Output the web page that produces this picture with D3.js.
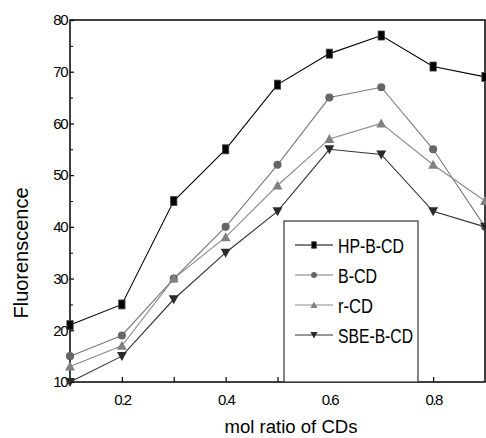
<!DOCTYPE html>
<html><head><meta charset="utf-8">
<script src="https://cdn.jsdelivr.net/npm/d3@7"></script>
<style>body{margin:0;background:#fff}svg{display:block;font-family:"Liberation Sans",Arial,sans-serif}</style>
</head><body><svg id="c" width="486" height="438"></svg>
<script>
const xs = [0.1,0.2,0.3,0.4,0.5,0.6,0.7,0.8,0.9];
const hpBCD = [21,25,45,55,67.5,73.5,77,71,69];
const bCD = [15,19,30,40,52,65,67,55,40];
const rCD = [13,17,30,38,48,57,60,52,45];
const sbeBCD = [10,15,26,35,43,55,54,43,40];
const xTickLabels = [0.2,0.4,0.6,0.8];
const yTickLabels = [10,20,30,40,50,60,70,80];
const seriesNames = ["HP-B-CD","B-CD","r-CD","SBE-B-CD"];

const svg = d3.select("#c");
const L=70,R=485,T=20,B=382;
const x = d3.scaleLinear().domain([0.1,0.9]).range([L,R]);
const y = d3.scaleLinear().domain([10,80]).range([B,T]);

const series = [
  {name:seriesNames[0], v:hpBCD, line:"#000", fill:"#000", shape:"square"},
  {name:seriesNames[1], v:bCD, line:"#7a7a7a", fill:"#666", shape:"circle"},
  {name:seriesNames[2], v:rCD, line:"#8a8a8a", fill:"#808080", shape:"up"},
  {name:seriesNames[3], v:sbeBCD, line:"#333", fill:"#2a2a2a", shape:"down"}
];

// axes (ticks inward)
const gx = svg.append("g").attr("transform",`translate(0,${B})`)
  .call(d3.axisBottom(x).tickValues([0.2,0.3,0.4,0.5,0.6,0.7,0.8]).tickSize(-5).tickPadding(12)
  .tickFormat(d=> xTickLabels.some(t=>Math.abs(t-d)<1e-9)? d3.format(".1f")(d):""));
const gy = svg.append("g").attr("transform",`translate(${L},0)`)
  .call(d3.axisLeft(y).tickValues(yTickLabels).tickSize(-4).tickPadding(3));
svg.append("g").attr("transform",`translate(${L},0)`)
  .call(d3.axisLeft(y).tickValues(d3.range(15,80,10)).tickSize(-3).tickFormat(""))
  .call(g=>g.select(".domain").remove());
[gx,gy].forEach(g=>{
  g.select(".domain").remove();
  g.selectAll("line").attr("stroke","#000").attr("stroke-width",1.2);
  g.selectAll("text").attr("font-size",15).attr("letter-spacing","-1.5px").attr("fill","#000")
   .attr("font-family","'Liberation Sans',Arial,sans-serif");
});
svg.selectAll("g line").attr("stroke","#000");

// frame
svg.append("rect").attr("x",L).attr("y",T).attr("width",R-L).attr("height",B-T)
  .attr("fill","none").attr("stroke","#000").attr("stroke-width",1.5);

function sym(g, shape, fill, s){
  if(shape==="square"){
    g.append("rect").attr("x",-s*0.35).attr("y",-s*0.5).attr("width",s*0.7).attr("height",s)
      .attr("fill",fill).attr("stroke","#444").attr("stroke-width",0.8);
  } else if(shape==="circle"){
    g.append("circle").attr("r",s*0.45).attr("fill",fill);
  } else if(shape==="up"){
    g.append("path").attr("d",`M0,${-s*0.55}L${s*0.55},${s*0.45}L${-s*0.55},${s*0.45}Z`).attr("fill",fill);
  } else {
    g.append("path").attr("d",`M0,${s*0.55}L${s*0.55},${-s*0.45}L${-s*0.55},${-s*0.45}Z`).attr("fill",fill);
  }
}

const line = d3.line().x((d,i)=>x(xs[i])).y(d=>y(d));
series.forEach(s=>{
  svg.append("path").attr("d",line(s.v)).attr("fill","none").attr("stroke",s.line).attr("stroke-width",1.1);
});
series.forEach(s=>{
  s.v.forEach((v,i)=>{
    const g = svg.append("g").attr("transform",`translate(${x(xs[i])},${y(v)})`);
    sym(g,s.shape,s.fill,9);
  });
});

// legend
const lg = svg.append("g");
lg.append("rect").attr("x",284).attr("y",221).attr("width",134).attr("height",161)
  .attr("fill","#fff").attr("stroke","#333").attr("stroke-width",1.2);
const legW = [66,39,35,75];
series.forEach((s,i)=>{
  const yy = 245 + i*30;
  lg.append("line").attr("x1",295).attr("x2",333).attr("y1",yy).attr("y2",yy).attr("stroke",s.line).attr("stroke-width",1.1);
  const g = lg.append("g").attr("transform",`translate(314,${yy})`);
  sym(g,s.shape,s.fill,6.5);
  lg.append("text").attr("x",338).attr("y",yy+7.5).attr("font-size",20)
    .attr("textLength",legW[i]).attr("lengthAdjust","spacingAndGlyphs").text(s.name);
});

// titles
svg.append("text").attr("x",291).attr("y",433).attr("text-anchor","middle").attr("font-size",18)
  .attr("textLength",133).attr("lengthAdjust","spacingAndGlyphs").text("mol ratio of CDs");
svg.append("text").attr("transform","translate(28,253) rotate(-90)").attr("text-anchor","middle")
  .attr("font-size",20).attr("textLength",131).attr("lengthAdjust","spacingAndGlyphs").text("Fluorenscence");
</script></body></html>
